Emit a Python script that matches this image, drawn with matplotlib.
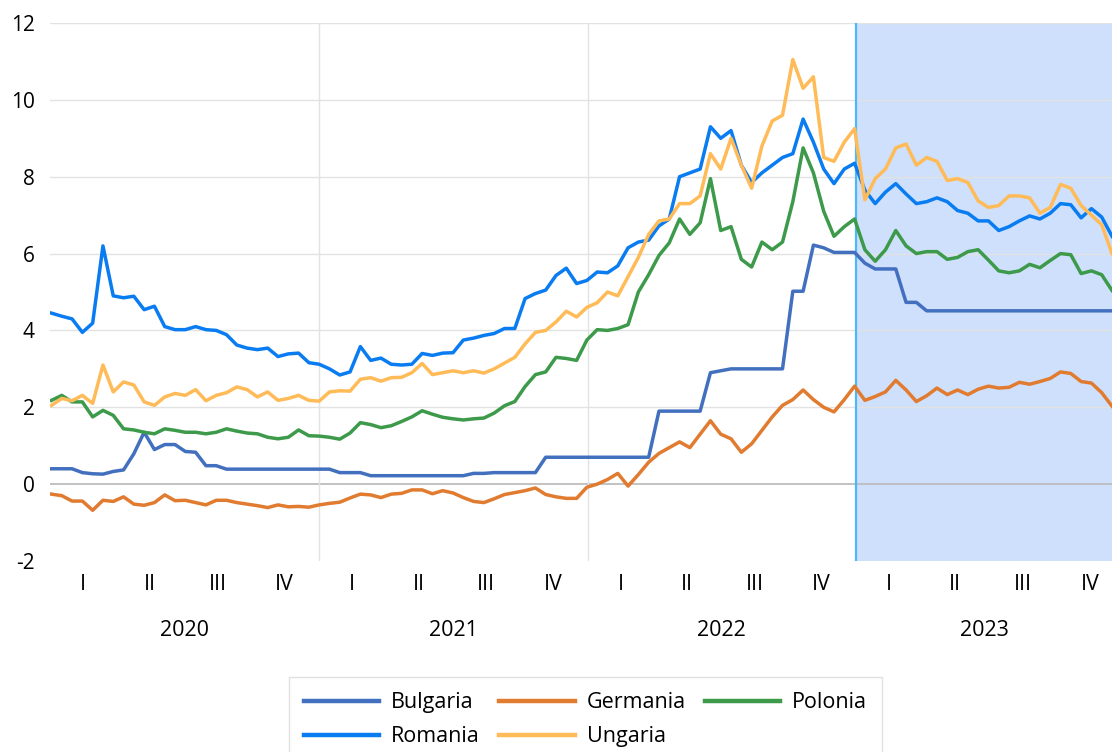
import matplotlib
matplotlib.use("Agg")
import matplotlib.pyplot as plt
import pandas as pd

plt.rcParams['font.family'] = ['Open Sans', 'DejaVu Sans']

# ---------------- data ----------------
start_date = "2020-01-03"
n_points = 104            # bi-weekly observations
series_names = ["Bulgaria", "Germania", "Polonia", "Romania", "Ungaria"]

bulgaria = [0.4, 0.4, 0.4, 0.3, 0.27, 0.26, 0.33, 0.37, 0.79, 1.35,
            0.9, 1.03, 1.03, 0.85, 0.83, 0.48, 0.48, 0.39, 0.39, 0.39,
            0.39, 0.39, 0.39, 0.39, 0.39, 0.39, 0.39, 0.39, 0.30, 0.30,
            0.30, 0.22, 0.22, 0.22, 0.22, 0.22, 0.22, 0.22, 0.22, 0.22,
            0.22, 0.28, 0.28, 0.30, 0.30, 0.30, 0.30, 0.30, 0.70, 0.70,
            0.70, 0.70, 0.70, 0.70, 0.70, 0.70, 0.70, 0.70, 0.70, 1.9,
            1.9, 1.9, 1.9, 1.9, 2.9, 2.95, 3.0, 3.0, 3.0, 3.0,
            3.0, 3.0, 5.02, 5.02, 6.22, 6.15, 6.03, 6.03, 6.03, 5.75,
            5.6, 5.6, 5.6, 4.73, 4.73, 4.51, 4.51, 4.51, 4.51, 4.51,
            4.51, 4.51, 4.51, 4.51, 4.51, 4.51, 4.51, 4.51, 4.51, 4.51,
            4.51, 4.51, 4.51, 4.51]

germania = [-0.26, -0.30, -0.44, -0.44, -0.68, -0.42, -0.45, -0.33, -0.52, -0.55,
            -0.48, -0.28, -0.43, -0.42, -0.48, -0.54, -0.42, -0.42, -0.48, -0.52,
            -0.56, -0.61, -0.54, -0.59, -0.58, -0.60, -0.54, -0.50, -0.47, -0.36,
            -0.26, -0.28, -0.35, -0.26, -0.24, -0.15, -0.15, -0.25, -0.17, -0.23,
            -0.35, -0.45, -0.48, -0.38, -0.27, -0.22, -0.17, -0.10, -0.27, -0.33,
            -0.37, -0.37, -0.08, 0.0, 0.12, 0.28, -0.05, 0.25, 0.57, 0.80,
            0.95, 1.1, 0.95, 1.3, 1.65, 1.3, 1.18, 0.83, 1.05, 1.4,
            1.75, 2.05, 2.2, 2.45, 2.2, 2.0, 1.88, 2.2, 2.55, 2.18,
            2.28, 2.4, 2.7, 2.45, 2.15, 2.3, 2.5, 2.33, 2.45, 2.33,
            2.47, 2.55, 2.5, 2.52, 2.65, 2.6, 2.67, 2.75, 2.92, 2.88,
            2.67, 2.63, 2.38, 2.03]

polonia = [2.18, 2.31, 2.14, 2.14, 1.75, 1.92, 1.79, 1.44, 1.41, 1.35,
           1.31, 1.44, 1.40, 1.35, 1.35, 1.31, 1.35, 1.44, 1.38, 1.33,
           1.31, 1.22, 1.18, 1.22, 1.41, 1.26, 1.25, 1.22, 1.17, 1.33,
           1.60, 1.55, 1.47, 1.52, 1.63, 1.75, 1.91, 1.82, 1.74, 1.70,
           1.67, 1.70, 1.72, 1.85, 2.04, 2.15, 2.54, 2.85, 2.92, 3.30,
           3.27, 3.22, 3.75, 4.02, 4.0, 4.05, 4.15, 5.0, 5.45, 5.95,
           6.28, 6.9, 6.5, 6.8, 7.95, 6.6, 6.7, 5.85, 5.65, 6.3,
           6.1, 6.3, 7.35, 8.75, 8.1, 7.1, 6.45, 6.7, 6.9, 6.1,
           5.8, 6.1, 6.6, 6.2, 6.0, 6.05, 6.05, 5.85, 5.9, 6.05,
           6.1, 5.83, 5.55, 5.5, 5.55, 5.72, 5.63, 5.82, 6.0, 5.97,
           5.48, 5.55, 5.45, 5.04]

romania = [4.45, 4.37, 4.30, 3.95, 4.19, 6.2, 4.9, 4.85, 4.89, 4.54,
           4.63, 4.10, 4.02, 4.02, 4.10, 4.02, 4.0, 3.89, 3.62, 3.54,
           3.5, 3.54, 3.32, 3.39, 3.41, 3.16, 3.12, 3.0, 2.84, 2.92,
           3.58, 3.22, 3.28, 3.12, 3.10, 3.12, 3.40, 3.35, 3.41, 3.42,
           3.75, 3.80, 3.87, 3.92, 4.05, 4.05, 4.83, 4.96, 5.05, 5.43,
           5.62, 5.22, 5.3, 5.52, 5.50, 5.68, 6.15, 6.3, 6.35, 6.72,
           6.9, 8.0, 8.1, 8.2, 9.3, 9.0, 9.2, 8.3, 7.85, 8.1,
           8.3, 8.5, 8.6, 9.5, 8.9, 8.2, 7.82, 8.2, 8.35, 7.65,
           7.3, 7.6, 7.82, 7.55, 7.3, 7.35, 7.45, 7.35, 7.12, 7.05,
           6.85, 6.85, 6.6, 6.7, 6.85, 6.98, 6.9, 7.05, 7.3, 7.27,
           6.93, 7.17, 6.95, 6.45]

ungaria = [2.05, 2.23, 2.17, 2.31, 2.1, 3.1, 2.4, 2.66, 2.58, 2.14,
           2.05, 2.27, 2.36, 2.31, 2.46, 2.17, 2.31, 2.38, 2.53, 2.46,
           2.27, 2.40, 2.18, 2.23, 2.31, 2.18, 2.16, 2.40, 2.43, 2.42,
           2.73, 2.77, 2.68, 2.77, 2.78, 2.90, 3.14, 2.85, 2.90, 2.95,
           2.90, 2.95, 2.89, 3.0, 3.15, 3.30, 3.65, 3.95, 4.0, 4.22,
           4.50, 4.35, 4.6, 4.72, 5.0, 4.9, 5.4, 5.9, 6.5, 6.85,
           6.9, 7.3, 7.3, 7.5, 8.6, 8.2, 9.0, 8.3, 7.7, 8.8,
           9.45, 9.6, 11.05, 10.3, 10.6, 8.5, 8.4, 8.9, 9.25, 7.4,
           7.95, 8.2, 8.75, 8.85, 8.3, 8.5, 8.4, 7.9, 7.95, 7.85,
           7.37, 7.2, 7.25, 7.5, 7.5, 7.45, 7.05, 7.2, 7.8, 7.7,
           7.25, 7.0, 6.75, 6.0]

quarter_labels = ["I", "II", "III", "IV"]
years = [2020, 2021, 2022, 2023]
y_ticks = [-2, 0, 2, 4, 6, 8, 10, 12]
shade_start = "2023-01-01"

colors = {"Bulgaria": "#4270bf", "Germania": "#e07b30", "Polonia": "#3c9a4a",
          "Romania": "#0a7cf2", "Ungaria": "#ffbb58"}

# ---------------- figure ----------------
dates = pd.date_range(start_date, periods=n_points, freq="14D")
values = {"Bulgaria": bulgaria, "Germania": germania, "Polonia": polonia,
          "Romania": romania, "Ungaria": ungaria}

W, H = 1112, 752
fig = plt.figure(figsize=(W / 100, H / 100), dpi=100)
ax = fig.add_axes([50 / W, (H - 561) / H, 1062 / W, 538 / H])

x_min = pd.Timestamp("2020-01-01")
x_max = dates[-1]
ax.set_xlim(x_min, x_max)
ax.set_ylim(-2, 12)

# shading & reference lines
ax.axvspan(pd.Timestamp(shade_start), x_max, color="#cfe0fc", zorder=0.5, lw=0)
for yv in [2, 4, 6, 8, 10, 12]:
    ax.axhline(yv, color="#e2e2e2", lw=1.0, zorder=1)
ax.axhline(0, color="#bdbdbd", lw=1.3, zorder=1)
for yr in years[1:3]:
    ax.axvline(pd.Timestamp(f"{yr}-01-01"), color="#e2e2e2", lw=1.0, zorder=1)
ax.axvline(pd.Timestamp(shade_start), color="#4db8f5", lw=1.6, zorder=1.5)

lines = {}
for name in series_names:
    (ln,) = ax.plot(dates, values[name], color=colors[name], lw=2.5,
                    label=name, zorder=3, solid_joinstyle="round")
    lines[name] = ln

for s in ax.spines.values():
    s.set_visible(False)

ax.set_yticks(y_ticks)
ax.set_yticklabels([str(v) for v in y_ticks])
ax.tick_params(axis="y", length=0, pad=11, labelsize=15, labelcolor="#000000")
ax.set_xticks([])

# category-style x labels (quarters and years)
trans = ax.get_xaxis_transform()
q_mid = ["02-15", "05-16", "08-16", "11-15"]
for yr in years:
    for ql, md in zip(quarter_labels, q_mid):
        ax.text(pd.Timestamp(f"{yr}-{md}"), -23.5 / 538, ql, transform=trans,
                ha="center", va="center", fontsize=15.5, clip_on=False)
    mid = pd.Timestamp(f"{yr}-07-02")
    if yr == years[-1]:
        mid = pd.Timestamp(f"{yr}-01-01") + (x_max - pd.Timestamp(f"{yr}-01-01")) / 2
    ax.text(mid, -69.5 / 538, str(yr), transform=trans,
            ha="center", va="center", fontsize=15.5, clip_on=False)

# legend (row-major order via reordering)
order = ["Bulgaria", "Romania", "Germania", "Ungaria", "Polonia"]
leg = fig.legend([lines[n] for n in order], order, ncol=3,
                 loc="upper left", bbox_to_anchor=(289 / W, 1 - 677 / H),
                 bbox_transform=fig.transFigure, borderaxespad=0,
                 fontsize=15.5, handlelength=3.5, handletextpad=0.55,
                 columnspacing=0.9, labelspacing=0.62, borderpad=0.7,
                 frameon=True, fancybox=False)
leg.get_frame().set_edgecolor("#d9d9d9")
leg.get_frame().set_linewidth(1.0)
for lh in leg.get_lines():
    lh.set_linewidth(3.2)

fig.savefig("out.png", dpi=100)
